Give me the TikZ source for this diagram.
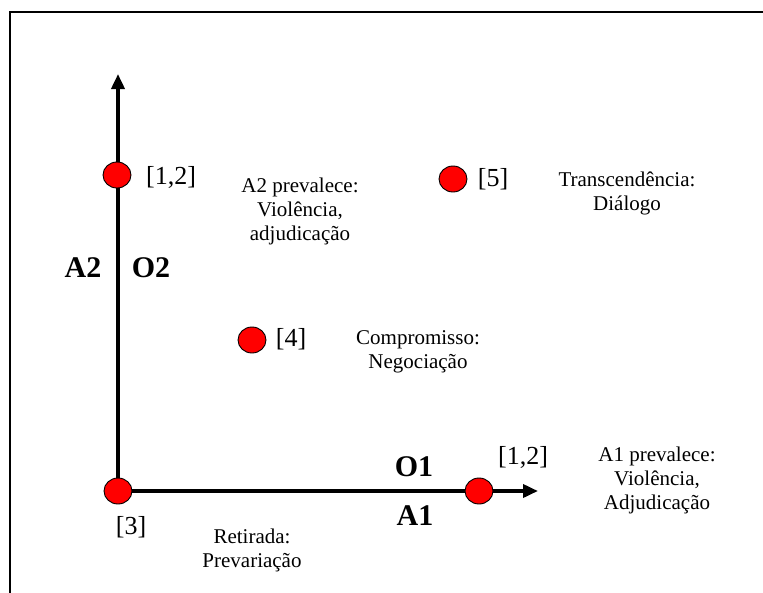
\documentclass[tikz,border=0pt]{standalone}
\usepackage{fontspec}
\setmainfont{Liberation Serif}
\usetikzlibrary{shapes.geometric,arrows.meta}
\begin{document}
\begin{tikzpicture}[x=1pt,y=-1pt,
  dot/.style={ellipse,draw=black,line width=0.9pt,fill=red,minimum width=28pt,minimum height=26pt,inner sep=0pt},
  axis/.style={line width=3.6pt,-{Triangle[length=15pt,width=13pt]}},
  lbl/.style={font=\fontsize{21}{24}\selectfont,inner sep=0pt,align=center},
  brk/.style={font=\fontsize{26}{28}\selectfont,inner sep=0pt},
  big/.style={font=\fontsize{30}{32}\selectfont\bfseries,inner sep=0pt}]
\useasboundingbox (0,0) rectangle (763,592);
\draw[line width=2.2pt] (10,600) -- (10,12) -- (770,12);
\coordinate (o) at (118,491);
\coordinate (ytip) at (118,74);
\coordinate (xtip) at (538,491);
\draw[axis] (o) -- (ytip);
\draw[axis] (o) -- (xtip);
\node[dot] (c3) at (o) {};
\node[dot] (c12v) at (117,175) {};
\node[dot] (c12h) at (479,491) {};
\node[dot] (c5) at (453,179) {};
\node[dot] (c4) at (252,340) {};
\node[brk] (l12v) at (171,177) {[1,2]};
\node[brk] (l12h) at (523,457) {[1,2]};
\node[brk] (l5) at (493,179) {[5]};
\node[brk] (l4) at (291,339) {[4]};
\node[brk] (l3) at (131,527) {[3]};
\node[lbl] (ta2) at (300,211) {A2 prevalece:\\Violência,\\adjudicação};
\node[lbl] (tt) at (627,193) {Transcendência:\\Diálogo};
\node[lbl] (tc) at (418,352) {Compromisso:\\Negociação};
\node[lbl] (ta1) at (657,480) {A1 prevalece:\\Violência,\\Adjudicação};
\node[lbl] (tr) at (252,550) {Retirada:\\Prevariação};
\node[big] (a2) at (83,268) {A2};
\node[big] (o2) at (151,268) {O2};
\node[big] (o1) at (414,467) {O1};
\node[big] (a1) at (415,516) {A1};
\end{tikzpicture}
\end{document}
